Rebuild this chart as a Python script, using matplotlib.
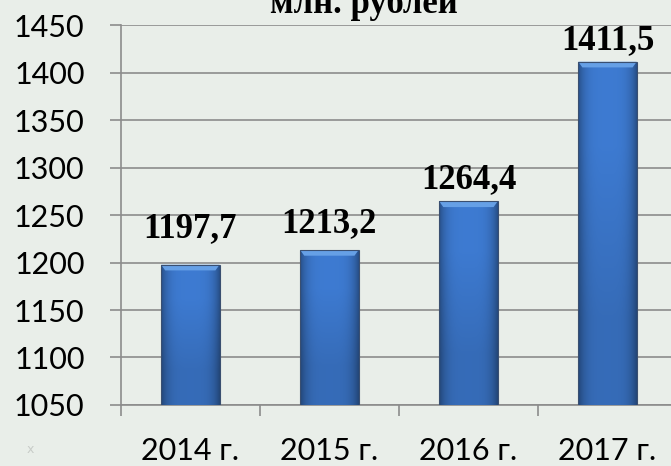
import matplotlib
matplotlib.use("Agg")
import matplotlib.pyplot as plt
from matplotlib.patches import Polygon
import numpy as np

years = ["2014 г.", "2015 г.", "2016 г.", "2017 г."]
values = [1197.7, 1213.2, 1264.4, 1411.5]
labels = ["1197,7", "1213,2", "1264,4", "1411,5"]
title = "млн. рублей"

# label gap above each bar, in points (as placed in the original)
label_gap = [14, 7, 4, 3]

bg = "#e9eee9"
fig = plt.figure(figsize=(6.71, 4.66), dpi=100, facecolor=bg)
ax = fig.add_axes([0.180, 0.131, 0.829, 0.815], facecolor=bg)

ymin, ymax = 1050, 1450
x = np.arange(len(years))
bars = ax.bar(x, values, width=0.42, color="#3b76c8", edgecolor="#3a4f70",
              linewidth=0.8, zorder=3)

# horizontal shading: darker sides, lighter middle
prof = np.linspace(-1, 1, 80)
shade = 1 - 0.35 * np.abs(prof) ** 4
base = np.array([0.24, 0.48, 0.82])
grad = (base[None, None, :] * shade[None, :, None]).repeat(2, axis=0)
grad[1] *= 0.88  # bottom a bit darker
for b in bars:
    x0, x1, top = b.get_x(), b.get_x() + b.get_width(), b.get_height()
    im = ax.imshow(grad, extent=(x0, x1, ymin, top), aspect="auto",
                   interpolation="bilinear", zorder=3.5, origin="upper")
    im.set_clip_path(b)
    # top bevel
    d = b.get_width() * 0.07
    h = 6
    ax.add_patch(Polygon([(x0, top), (x1, top), (x1 - d, top - h),
                          (x0 + d, top - h)], closed=True,
                         facecolor="#66a0e6", edgecolor="none", zorder=4))
    b.set_zorder(4.5)
    b.set_facecolor("none")

ax.set_ylim(ymin, ymax)
ax.set_xlim(-0.5, 3.5)
ax.set_yticks(np.arange(1050, 1451, 50))
ax.yaxis.grid(True, color="#8c8c8c", linewidth=1.2, zorder=0)

ax.set_xticks(x)
ax.set_xticklabels(years)
ax.set_xticks(np.arange(-0.5, 4, 1), minor=True)
ax.tick_params(axis="x", which="major", length=0, pad=23, labelsize=22)
ax.tick_params(axis="x", which="minor", length=8, width=1.2, color="#8c8c8c")
ax.tick_params(axis="y", length=8, width=1.2, color="#8c8c8c", pad=18,
               labelsize=22)
for t in ax.get_xticklabels() + ax.get_yticklabels():
    t.set_fontfamily("Lato")

for s in ["top", "right"]:
    ax.spines[s].set_visible(False)
for s in ["left", "bottom"]:
    ax.spines[s].set_color("#8c8c8c")
    ax.spines[s].set_linewidth(1.2)

for xi, v, lab, g in zip(x, values, labels, label_gap):
    ax.annotate(lab, (xi, v), xytext=(0, g), textcoords="offset points",
                ha="center", va="bottom", fontsize=25, fontweight="bold",
                family="Liberation Serif", zorder=5)

# title sits partly above the top edge, as in the original crop
fig.text(0.543, 1 - 13 / 466, title, ha="center", va="baseline",
         fontsize=25, fontweight="bold", family="Liberation Serif")
fig.text(0.045, 0.035, "x", ha="center", va="center", fontsize=9,
         color="#c8ccc8")

fig.savefig("out.png", dpi=100, facecolor=bg)
